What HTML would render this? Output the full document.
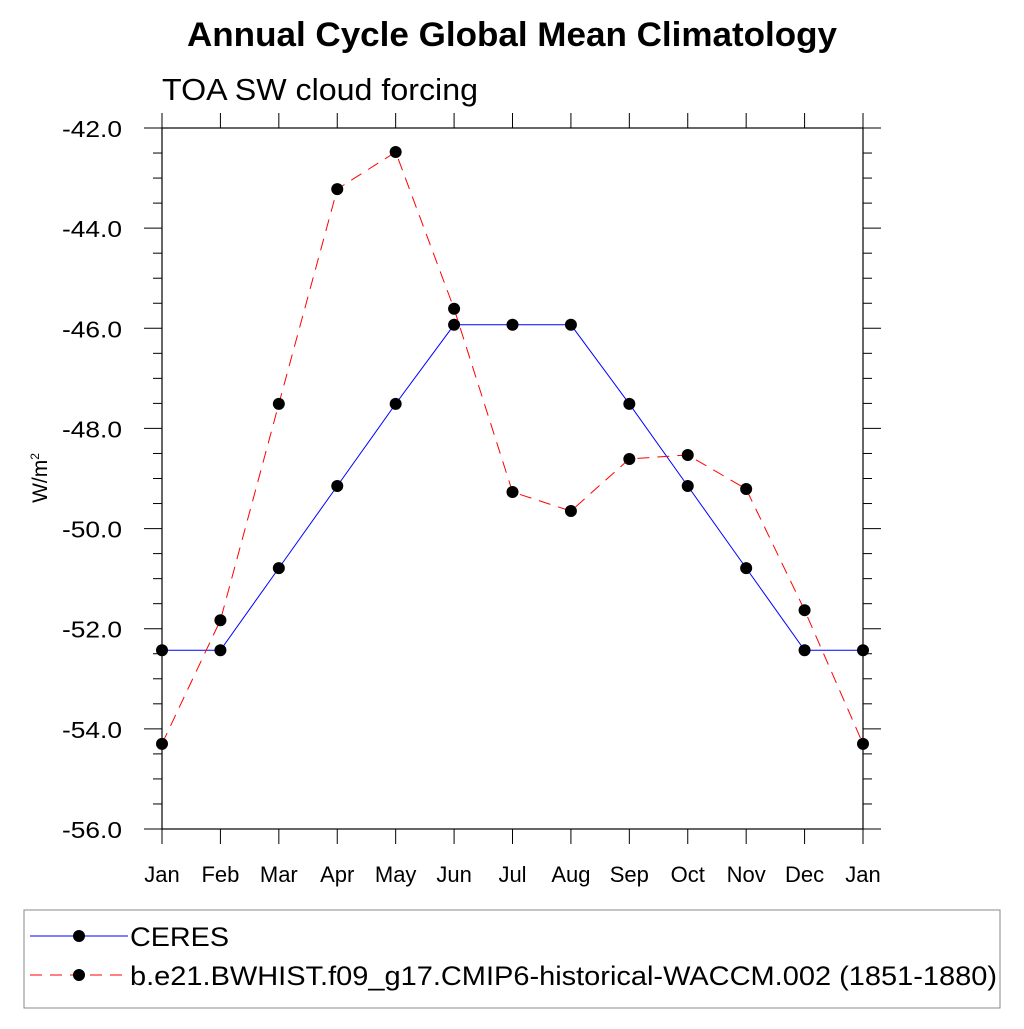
<!DOCTYPE html>
<html><head><meta charset="utf-8"><style>
body{margin:0;background:#fff;}
svg text{font-family:"Liberation Sans",sans-serif;}
</style></head><body>
<svg id="c" width="1024" height="1024" xmlns="http://www.w3.org/2000/svg">
<text x="512" y="46" font-size="34" font-weight="bold" text-anchor="middle" textLength="650" lengthAdjust="spacingAndGlyphs">Annual Cycle Global Mean Climatology</text>
<text x="162" y="100" font-size="31" textLength="316" lengthAdjust="spacingAndGlyphs">TOA SW cloud forcing</text>
<text transform="translate(47,478) rotate(-90)" font-size="21" text-anchor="middle">W/m<tspan font-size="12" dy="-8">2</tspan></text>
<g id="axes"></g>
<g id="series"></g>
<rect x="24" y="910" width="976" height="98" fill="none" stroke="#888" stroke-width="1"/>
<line x1="30" y1="936" x2="128" y2="936" stroke="#0000ff" stroke-width="1"/>
<circle cx="79" cy="936" r="6" fill="#000"/>
<text x="130" y="946" font-size="27" textLength="99" lengthAdjust="spacingAndGlyphs">CERES</text>
<line x1="30" y1="975" x2="128" y2="975" stroke="#ff0000" stroke-width="1" stroke-dasharray="12,8"/>
<circle cx="79" cy="975" r="6" fill="#000"/>
<text x="130" y="985" font-size="27" textLength="867" lengthAdjust="spacingAndGlyphs">b.e21.BWHIST.f09_g17.CMIP6-historical-WACCM.002 (1851-1880)</text>
</svg>
<script>
const months=["Jan","Feb","Mar","Apr","May","Jun","Jul","Aug","Sep","Oct","Nov","Dec","Jan"];
const ceres=[-52.43,-52.43,-50.79,-49.15,-47.51,-45.93,-45.93,-45.93,-47.51,-49.15,-50.79,-52.43,-52.43];
const model=[-54.30,-51.83,-47.51,-43.22,-42.48,-45.61,-49.27,-49.65,-48.61,-48.53,-49.21,-51.63,-54.30];
const yTicks=[-42,-44,-46,-48,-50,-52,-54,-56];
const NS="http://www.w3.org/2000/svg";
const L=162,R=863,T=128,B=829,ymin=-56,ymax=-42;
const xs=i=>L+(R-L)*i/12;
const ys=v=>B-(v-ymin)/(ymax-ymin)*(B-T);
function mk(tag,attrs,parent){const e=document.createElementNS(NS,tag);for(const k in attrs)e.setAttribute(k,attrs[k]);parent.appendChild(e);return e;}
const ax=document.getElementById('axes');
let f=mk('rect',{x:L,y:T,width:R-L,height:B-T,fill:'none',stroke:'#000','stroke-width':1.2},ax);


months.forEach((m,i)=>{
  const x=xs(i);
  mk('line',{x1:x,y1:B,x2:x,y2:B+15,stroke:'#000'},ax);
  mk('line',{x1:x,y1:T,x2:x,y2:T-15,stroke:'#000'},ax);
  const t=mk('text',{x:x,y:B+53,'font-size':22,'text-anchor':'middle'},ax);
  t.textContent=m;
  
  
});
for(let v=ymin;v<=ymax+1e-6;v+=0.5){
  const y=ys(v);const major=Math.abs(v%2)<1e-6;const len=major?18:9;
  mk('line',{x1:L,y1:y,x2:L-len,y2:y,stroke:'#000'},ax);
  mk('line',{x1:R,y1:y,x2:R+len,y2:y,stroke:'#000'},ax);
}
yTicks.forEach(v=>{
  const t=mk('text',{x:62,y:ys(v)+9,'font-size':23,textLength:60,lengthAdjust:'spacingAndGlyphs'},ax);
  t.textContent=v.toFixed(1);
  
  
});
const sg=document.getElementById('series');
function draw(data,color,dash,name){
  const pl=mk('polyline',{points:data.map((v,i)=>xs(i)+','+ys(v)).join(' '),fill:'none',stroke:color,'stroke-width':1,'stroke-dasharray':dash},sg);
  
  
  data.forEach((v,i)=>{
    const c=mk('circle',{cx:xs(i),cy:ys(v),r:6,fill:'#000'},sg);
    
    
  });
}
draw(ceres,'#0000ff','none','ceres');
draw(model,'#ff0000','12,8','model');
</script>
</body></html>
